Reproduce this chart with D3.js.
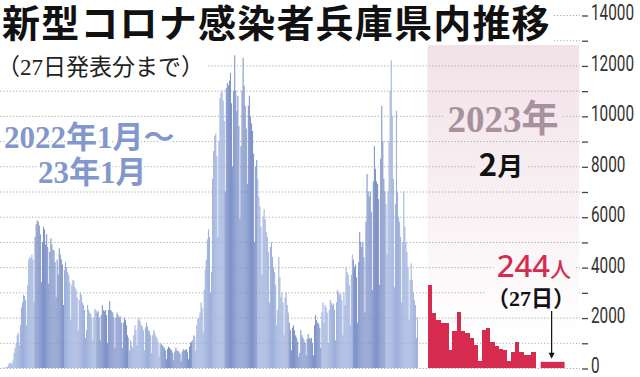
<!DOCTYPE html>
<html>
<head>
<meta charset="utf-8">
<script src="https://cdn.jsdelivr.net/npm/d3@7"></script>
<style>
  html, body { margin: 0; padding: 0; background: #fff; }
  svg { display: block; }
</style>
</head>
<body>
<svg width="640" height="377"></svg>
<script>
// --- Data: daily new cases in Hyogo, one array per month ---
const jan22 = [10, 15, 10, 20, 32, 60, 147, 200, 210, 150, 300, 600, 800, 1000, 1300, 1400, 900, 1700, 2400, 2600, 2900, 2850, 2700, 1700, 3300, 4300, 4400, 4350, 4500, 4300, 2600];
const feb22 = [5200, 5700, 5850, 5800, 5650, 5300, 3400, 5000, 5600, 5500, 4900, 5300, 4800, 3350, 4600, 5150, 4900, 4700, 4650, 4200, 2800, 4300, 3700, 4750, 4500, 4300, 4100, 2500];
const mar22 = [3900, 4200, 4000, 3800, 3700, 3400, 1900, 3300, 3500, 3450, 3200, 3100, 2800, 1500, 2700, 3000, 2900, 2600, 2500, 2300, 1200, 1500, 2500, 2300, 2200, 2150, 2000, 1100, 2000, 2350, 2300];
const apr22 = [2200, 2250, 2000, 1100, 2100, 2500, 2300, 2250, 2300, 2100, 1000, 2300, 2650, 2300, 2250, 2200, 2000, 800, 2000, 2200, 2100, 2000, 2050, 1800, 800, 1800, 2000, 1900, 1700, 1300];
const may22 = [1200, 700, 1100, 900, 800, 1300, 1700, 1500, 900, 1900, 2000, 1850, 1700, 1650, 1500, 700, 1600, 1800, 1650, 1500, 1450, 1300, 600, 1300, 1500, 1400, 1250, 1200, 1050, 450, 1000];
const jun22 = [950, 900, 850, 800, 700, 350, 750, 850, 800, 750, 700, 600, 300, 650, 800, 700, 680, 650, 550, 280, 650, 750, 700, 720, 750, 650, 350, 850, 1000, 1050];
const jul22 = [1100, 1300, 1250, 700, 1700, 1950, 2000, 2200, 2600, 2400, 1400, 3100, 3900, 4300, 5100, 5500, 5200, 3000, 3800, 7500, 8600, 9200, 9300, 8400, 5200, 9000, 10700, 10900, 11000, 10600, 9800];
const aug22 = [7000, 11100, 11300, 11200, 11400, 11700, 10500, 8000, 11000, 12400, 11000, 10200, 10800, 9600, 5900, 8800, 11000, 12300, 11200, 10400, 9500, 7300, 10400, 10800, 10000, 9700, 9400, 8500, 5000, 8000, 8250];
const sep22 = [7500, 6800, 6400, 5600, 3700, 6000, 6300, 5900, 5400, 5200, 4600, 2600, 4800, 5000, 4400, 4000, 3800, 3300, 1700, 2300, 4400, 3600, 2800, 3000, 2600, 1300, 2800, 3000, 2500, 2200];
const oct22 = [1800, 1500, 700, 1600, 1700, 1500, 1300, 1200, 1050, 450, 600, 1500, 1300, 1200, 1100, 1000, 500, 1150, 1350, 1200, 1150, 1200, 1000, 500, 1700, 2100, 1900, 1800, 1750, 1600, 800];
const nov22 = [2200, 2600, 1800, 2500, 2400, 2200, 1000, 2300, 2700, 2600, 2500, 2550, 2300, 1100, 2600, 3100, 3000, 2900, 2950, 2700, 1300, 3000, 2500, 4000, 3800, 3700, 3300, 1700, 3700, 4500];
const dec22 = [4300, 4000, 4100, 3600, 1800, 4200, 5400, 5000, 4800, 5000, 4400, 2200, 5800, 7700, 7000, 6800, 7000, 6200, 3100, 7400, 8800, 7900, 7400, 7300, 6700, 3300, 8300, 10400, 9000, 7500, 7000];
const jan23 = [6500, 4500, 7000, 9000, 11000, 12200, 10000, 7500, 3200, 6500, 10200, 7000, 6000, 5800, 5200, 2600, 5000, 7000, 5600, 5000, 4600, 4000, 1900, 3500, 4150, 3500, 3000, 2700, 2500, 1200, 2000];

// February 2023, days 1..26, plus the latest day highlighted
const feb23 = [3290, 2170, 1900, 1800, 1800, 710, 1480, 2240, 1480, 1380, 1180, 910, 290, 1510, 1580, 1050, 870, 740, 710, 290, 650, 1050, 650, 520, 520, 650];
const latestDay = 27;
const latestValue = 244;

const yTicks = [0, 1000, 2000, 3000, 4000, 5000, 6000, 7000, 8000, 9000, 10000, 11000, 12000, 13000, 14000];
const yLabels = [0, 2000, 4000, 6000, 8000, 10000, 12000, 14000];

// --- Layout constants ---
const BLUE_LIGHT = "#9db0dc";
const BLUE_DARK = "#7f93c9";
const RED = "#d62b4e";
const LATEST_SPAN = [27.25, 33]; // wider highlight bar, in feb day units
const SERIF = "'Liberation Serif', 'Noto Sans CJK JP', serif";
const GOTHIC = "'Noto Sans CJK JP', sans-serif";
const DIGIT_W = 8.6; // condensed tick digits

const blueMonths = [jan22, feb22, mar22, apr22, may22, jun22, jul22, aug22, sep22, oct22, nov22, dec22, jan23];

// flatten to daily records with month parity for the alternate shading
const daily = [];
blueMonths.forEach((month, mi) => {
  month.forEach(v => {
    daily.push({ i: daily.length, value: v, shade: mi % 2 });
  });
});

const svg = d3.select("svg");

// --- Scales ---
const x = d3.scaleLinear().domain([0, daily.length]).range([2, 418]);
const y = d3.scaleLinear().domain([0, 14000]).range([368, 15]);
const xFeb = d3.scaleLinear().domain([0, feb23.length]).range([427.5, 535.5]);

// --- Pink background for Feb 2023 ---
const defs = svg.append("defs");
const grad = defs.append("linearGradient")
  .attr("id", "pinkFade")
  .attr("gradientUnits", "userSpaceOnUse")
  .attr("x1", 0).attr("y1", 45).attr("x2", 0).attr("y2", 335);
grad.append("stop").attr("offset", 0).attr("stop-color", "#f2e2e7");
grad.append("stop").attr("offset", 0.5).attr("stop-color", "#f8eff2");
grad.append("stop").attr("offset", 1).attr("stop-color", "#ffffff");

svg.append("rect")
  .attr("x", xFeb(0)).attr("y", 45)
  .attr("width", 579 - xFeb(0)).attr("height", y(0) - 45)
  .attr("fill", "url(#pinkFade)");

// --- Grid ---
svg.append("g")
  .selectAll("line")
  .data(yTicks)
  .join("line")
  .attr("x1", 0).attr("x2", 580)
  .attr("y1", d => y(d) + 0.5).attr("y2", d => y(d) + 0.5)
  .attr("stroke", "#a9a9a9")
  .attr("stroke-width", 1)
  .attr("stroke-dasharray", "1.2,2");

// --- Blue bars (Jan 2022 - Jan 2023) ---
svg.append("g")
  .selectAll("rect")
  .data(daily)
  .join("rect")
  .attr("x", d => x(d.i))
  .attr("width", d => x(d.i + 1) - x(d.i))
  .attr("y", d => y(d.value))
  .attr("height", d => y(0) - y(d.value))
  .attr("fill", d => d.shade ? BLUE_DARK : BLUE_LIGHT);

// --- Red bars (Feb 2023) ---
svg.append("g")
  .attr("shape-rendering", "crispEdges")
  .selectAll("rect")
  .data(feb23)
  .join("rect")
  .attr("x", (d, i) => xFeb(i))
  .attr("width", (d, i) => xFeb(i + 1) - xFeb(i) + 0.6)
  .attr("y", d => y(d))
  .attr("height", d => y(0) - y(d))
  .attr("fill", RED);

svg.append("rect")
  .attr("x", xFeb(LATEST_SPAN[0]))
  .attr("width", xFeb(LATEST_SPAN[1]) - xFeb(LATEST_SPAN[0]))
  .attr("y", y(latestValue))
  .attr("height", y(0) - y(latestValue))
  .attr("fill", RED);

// --- Right axis ---
const axis = svg.append("g")
  .attr("transform", "translate(582,0.5)")
  .call(d3.axisRight(y)
    .tickValues(yTicks)
    .tickSize(6)
    .tickPadding(3)
    .tickFormat(d => yLabels.includes(d) ? d : ""));
axis.select(".domain").remove();
axis.selectAll(".tick line").attr("stroke", "#444").attr("stroke-width", 1.3);
axis.selectAll(".tick text")
  .attr("fill", "#333")
  .attr("dy", "0.2em")
  .style("font-family", "Roboto, sans-serif")
  .style("font-size", "22px")
  .each(function(d) {
    const s = yLabels.includes(d) ? String(d) : "";
    if (s) d3.select(this).attr("textLength", s.length * DIGIT_W).attr("lengthAdjust", "spacingAndGlyphs");
  });

// --- Helper: box behind a text, same parent ---
function boxBehind(sel, pad, fill) {
  const node = sel.node();
  const b = node.getBBox();
  d3.select(node.parentNode).insert("rect", () => node)
    .attr("x", b.x - pad).attr("y", b.y + 3)
    .attr("width", b.width + pad * 2).attr("height", b.height - 4)
    .attr("fill", fill);
}

const notes = svg.append("g");

// --- Title ---
const title = notes.append("text")
  .attr("x", 2).attr("y", 37)
  .style("font-family", GOTHIC)
  .style("font-weight", 700)
  .style("font-size", "38px")
  .style("letter-spacing", "1.2px")
  .attr("fill", "#111")
  .text("新型コロナ感染者兵庫県内推移");
const tb = title.node().getBBox();
notes.insert("rect", "text").attr("x", 0).attr("y", 0).attr("width", tb.x + tb.width + 2).attr("height", 44).attr("fill", "#fff");

const sub = notes.append("text")
  .attr("x", -3).attr("y", 75)
  .style("font-family", SERIF)
  .style("font-size", "23px")
  .attr("fill", "#222")
  .text("（27日発表分まで）");
const sb = sub.node().getBBox();
notes.insert("rect", "text").attr("x", 0).attr("y", 50).attr("width", sb.x + sb.width + 4).attr("height", 30).attr("fill", "#fff");

// --- Period label, blue ---
notes.selectAll(".period")
  .data(["2022年1月～", "23年1月"])
  .join("text")
  .attr("class", "period")
  .attr("x", (d, i) => i ? 38 : 4)
  .attr("y", (d, i) => i ? 183 : 148)
  .style("font-family", SERIF)
  .style("font-weight", 700)
  .style("font-size", "31px")
  .attr("fill", "#8297cc")
  .attr("stroke", "#fff")
  .attr("stroke-width", 4)
  .attr("paint-order", "stroke")
  .text(d => d);

// --- Feb 2023 labels ---
const yearLabel = notes.append("text")
  .attr("x", 503).attr("y", 132)
  .attr("text-anchor", "middle")
  .style("font-family", SERIF)
  .style("font-weight", 700)
  .style("font-size", "37px")
  .attr("fill", "#a8919f")
  .text("2023年");
boxBehind(yearLabel, 3, "url(#pinkFade)");

const monthLabel = notes.append("text")
  .attr("x", 501).attr("y", 176)
  .attr("text-anchor", "middle")
  .style("font-family", GOTHIC)
  .style("font-weight", 700)
  .attr("fill", "#111");
monthLabel.append("tspan").style("font-size", "31px").text("2");
monthLabel.append("tspan").style("font-size", "26px").text("月");
boxBehind(monthLabel, 4, "url(#pinkFade)");

const latestLabel = notes.append("text")
  .attr("x", 571).attr("y", 277)
  .attr("text-anchor", "end")
  .attr("fill", RED)
  .style("font-family", "'Noto Sans', sans-serif")
  .style("font-weight", 500);
latestLabel.append("tspan").style("font-size", "31px").text(latestValue);
latestLabel.append("tspan").style("font-size", "21px").style("font-family", GOTHIC).text("人");
boxBehind(latestLabel, 3, "url(#pinkFade)");

const dayLabel = notes.append("text")
  .attr("x", 531).attr("y", 306)
  .attr("text-anchor", "middle")
  .style("font-family", SERIF)
  .style("font-weight", 700)
  .style("font-size", "22px")
  .attr("fill", "#111")
  .text("（" + latestDay + "日）");
boxBehind(dayLabel, 2, "url(#pinkFade)");

// --- Arrow to latest bar ---
const ax = (xFeb(LATEST_SPAN[0]) + xFeb(LATEST_SPAN[1])) / 2 - 1;
notes.append("line")
  .attr("x1", ax).attr("x2", ax)
  .attr("y1", 311).attr("y2", y(latestValue) - 6)
  .attr("stroke", "#111").attr("stroke-width", 1.2);
notes.append("path")
  .attr("d", `M${ax - 3},${y(latestValue) - 9} L${ax},${y(latestValue) - 3} L${ax + 3},${y(latestValue) - 9} Z`)
  .attr("fill", "#111");
</script>
</body>
</html>
